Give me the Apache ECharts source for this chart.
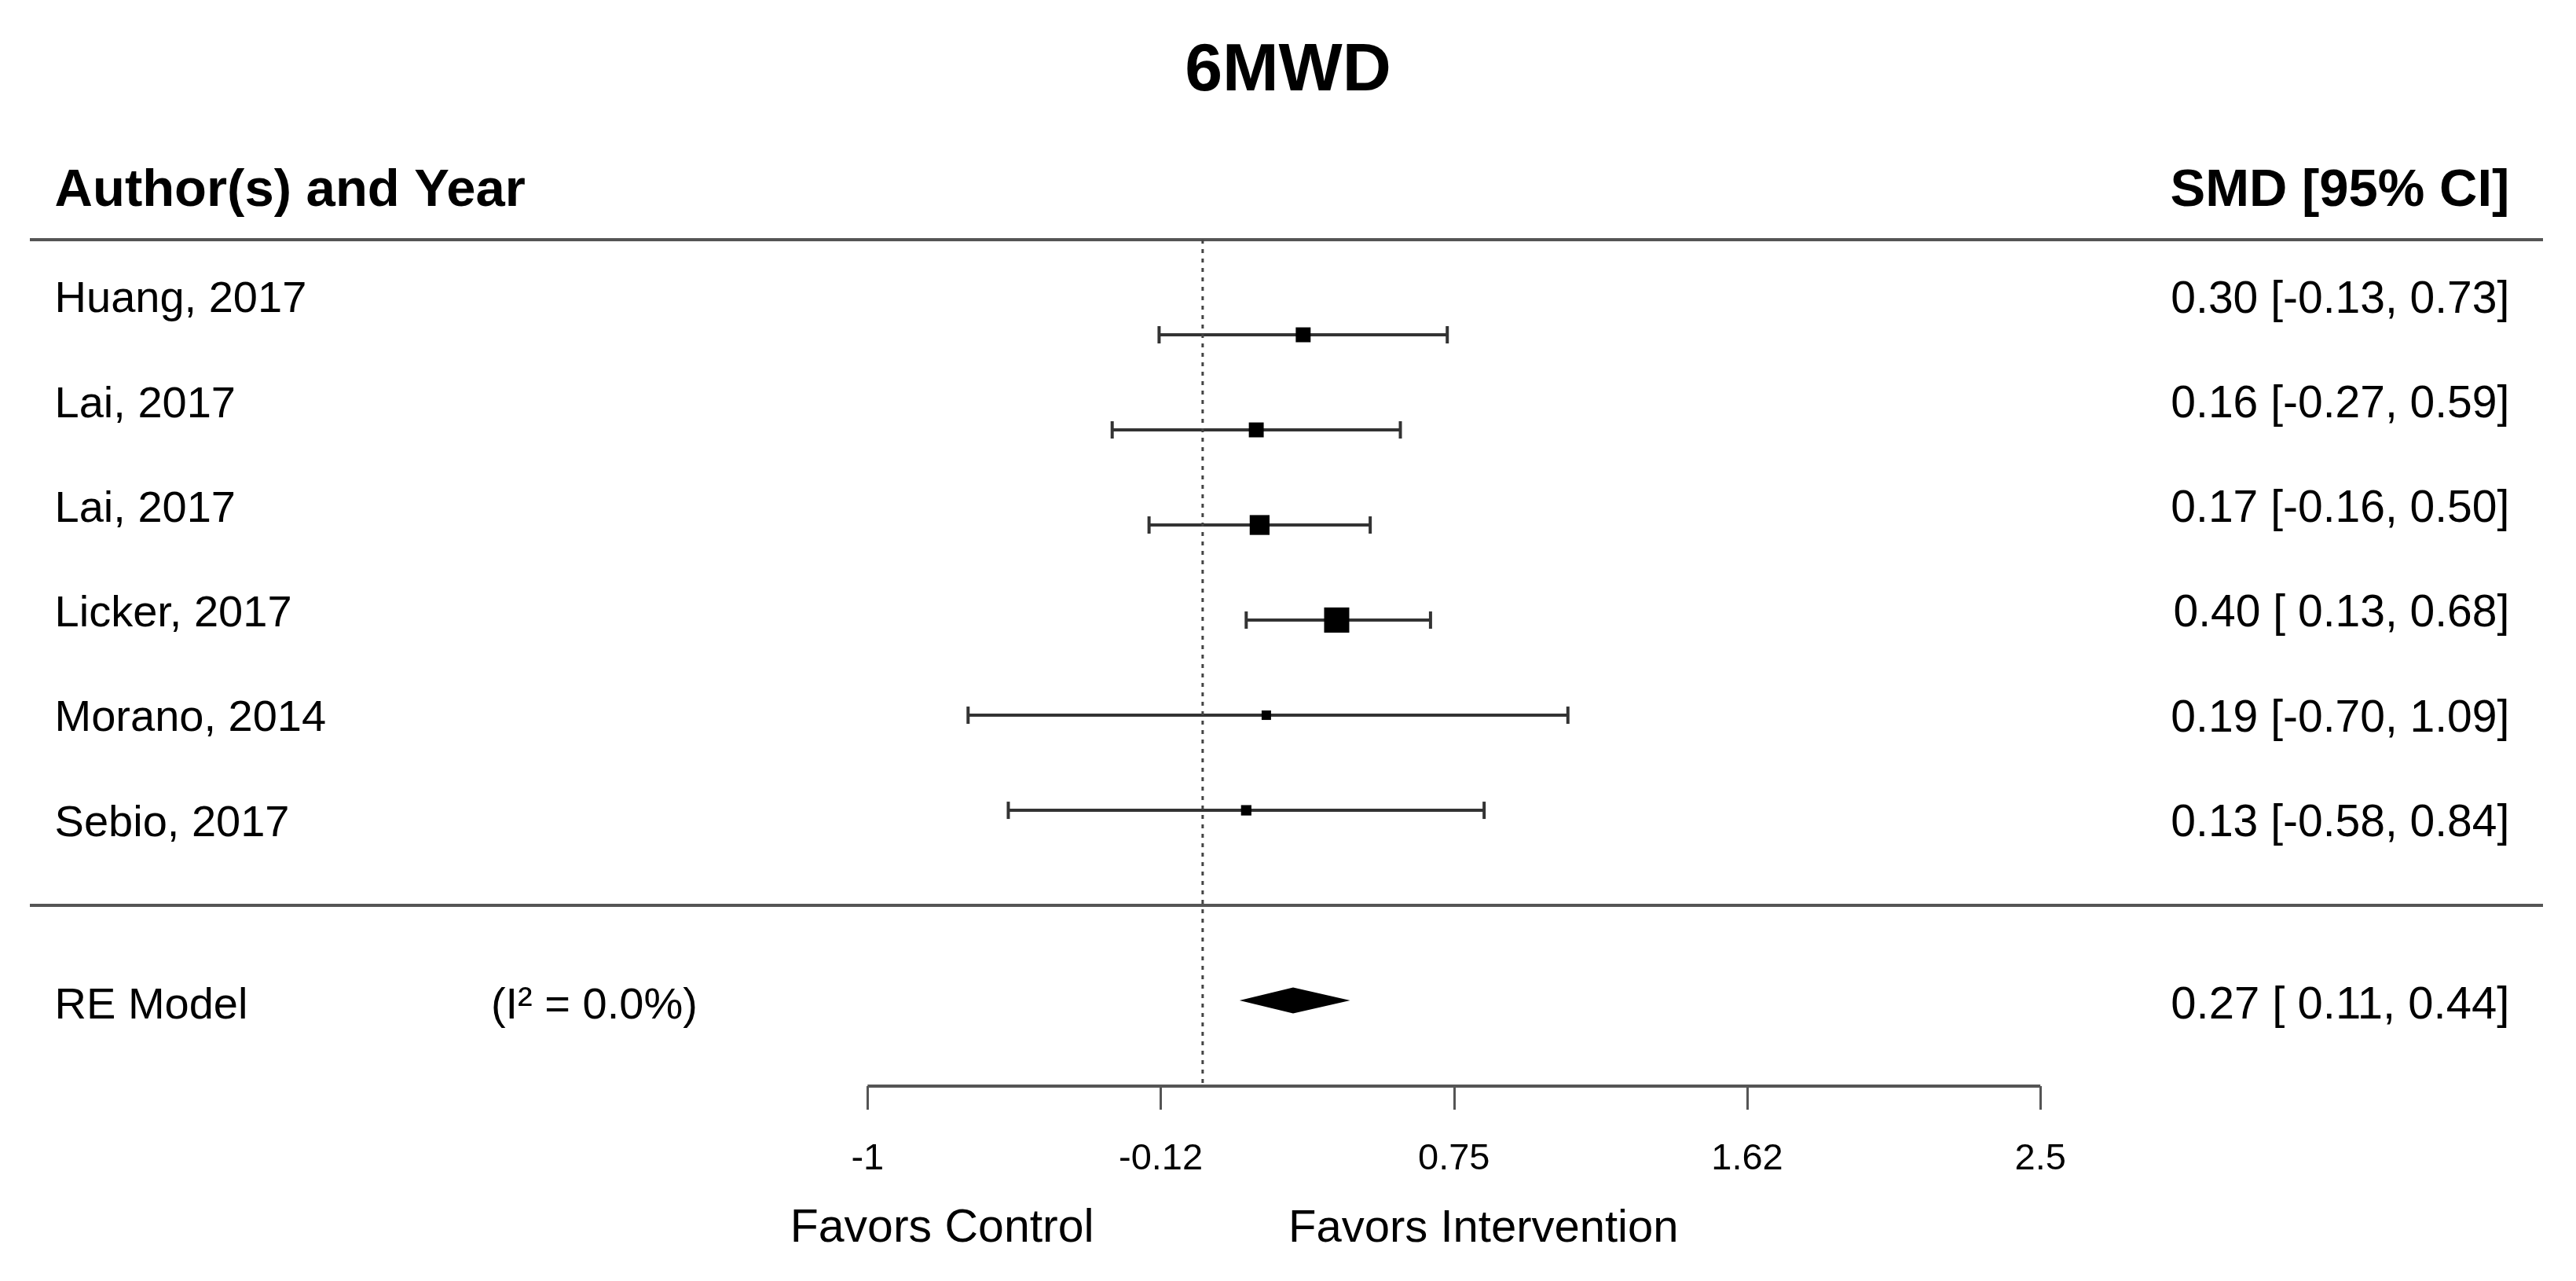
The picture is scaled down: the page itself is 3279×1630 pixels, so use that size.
<!doctype html>
<html>
<head>
<meta charset="utf-8">
<script src="https://cdn.jsdelivr.net/npm/echarts@6/dist/echarts.min.js"></script>
<style>
  html, body { margin: 0; padding: 0; background: #fff; }
  #main { width: 3279px; height: 1630px; }
</style>
</head>
<body>
<div id="main"></div>
<script>
// forest plot data
var studies = ['Huang, 2017', 'Lai, 2017', 'Lai, 2017', 'Licker, 2017', 'Morano, 2014', 'Sebio, 2017'];
var smd    = [0.30, 0.16, 0.17, 0.40, 0.19, 0.13];
var ciLow  = [-0.13, -0.27, -0.16, 0.13, -0.70, -0.58];
var ciHigh = [0.73, 0.59, 0.50, 0.68, 1.09, 0.84];
var pooledEst = 0.27, pooledLow = 0.11, pooledHigh = 0.44;
var i2Text = '0.0%';
var tickValues = [-1, -0.125, 0.75, 1.625, 2.5];
var tickLabels = ['-1', '-0.12', '0.75', '1.62', '2.5'];

var FONT = 'Liberation Sans, Arial, sans-serif';
var k = studies.length;
var xMin = -3.5, xMax = 4;
var axisY = 8.9;

// weights from CI width -> square size (like metafor psize)
var w = studies.map(function (s, i) { var d = ciHigh[i] - ciLow[i]; return 1 / (d * d); });
var wMin = Math.min.apply(null, w), wMax = Math.max.apply(null, w);
var psize = w.map(function (v) { return 20 * (0.5 + (v - wMin) / (wMax - wMin)) + 2; });

function fmtLow(v) { return (v < 0 ? '' : ' ') + v.toFixed(2); }
function ciText(e, lo, hi) { return e.toFixed(2) + ' [' + fmtLow(lo) + ', ' + hi.toFixed(2) + ']'; }

// text rows (sit a bit off the marker rows, as in the picture)
function textRow(i) { return 0.636 + 1.101 * i; }

var texts = [];
texts.push({ x: -3.426, y: -0.51, t: 'Author(s) and Year', align: 'left', size: 67, bold: true });
texts.push({ x: 3.9, y: -0.51, t: 'SMD [95% CI]', align: 'right', size: 67, bold: true });
studies.forEach(function (s, i) {
  texts.push({ x: -3.426, y: textRow(i), t: s, align: 'left', size: 56 });
  texts.push({ x: 3.9, y: textRow(i), t: ciText(smd[i], ciLow[i], ciHigh[i]), align: 'right', size: 57 });
});
texts.push({ x: -3.426, y: 8.06, t: 'RE Model', align: 'left', size: 56 });
texts.push({ x: -2.124, y: 8.06, t: '(I\u00B2 = ' + i2Text + ')', align: 'left', size: 56 });
texts.push({ x: 3.9, y: 8.06, t: ciText(pooledEst, pooledLow, pooledHigh), align: 'right', size: 58 });
texts.push({ x: -0.324, y: 10.4, t: 'Favors Control', align: 'right', size: 59 });
texts.push({ x: 0.256, y: 10.4, t: 'Favors Intervention', align: 'left', size: 58 });

var lineCol = '#555';

var myChart = echarts.init(document.getElementById('main'));
var option = {
  backgroundColor: '#fff',
  animation: false,
  title: {
    text: '6MWD',
    left: 'center',
    top: 43,
    textStyle: { fontSize: 86, fontWeight: 'bold', fontFamily: FONT, color: '#000' }
  },
  grid: { left: 38, right: 42, top: 305, bottom: 248 },
  xAxis: {
    type: 'value',
    position: 'bottom',
    min: xMin,
    max: xMax,
    axisLine: { show: false, onZero: false },
    splitLine: { show: false },
    axisTick: {
      show: true,
      customValues: tickValues,
      length: 30,
      lineStyle: { color: lineCol, width: 3 }
    },
    axisLabel: {
      customValues: tickValues,
      margin: 70,
      fontSize: 47,
      fontFamily: FONT,
      color: '#000',
      formatter: function (v) {
        var best = 0;
        for (var i = 1; i < tickValues.length; i++) {
          if (Math.abs(tickValues[i] - v) < Math.abs(tickValues[best] - v)) best = i;
        }
        return tickLabels[best];
      }
    }
  },
  yAxis: { type: 'value', min: 0, max: axisY, inverse: true, show: false },
  series: [
    { // header rule
      type: 'line', data: [[xMin, 0], [xMax, 0]], symbol: 'none', clip: false, silent: true,
      lineStyle: { color: lineCol, width: 4 }
    },
    { // separator above summary
      type: 'line', data: [[xMin, k + 1], [xMax, k + 1]], symbol: 'none', clip: false, silent: true,
      lineStyle: { color: lineCol, width: 4 }
    },
    { // x axis line
      type: 'line', data: [[tickValues[0], axisY], [tickValues[tickValues.length - 1], axisY]],
      symbol: 'none', clip: false, silent: true,
      lineStyle: { color: lineCol, width: 4 }
    },
    { // reference line at 0
      type: 'line', data: [[0, 0], [0, axisY]], symbol: 'none', clip: false, silent: true,
      lineStyle: { color: '#444', width: 3, type: [5, 7] }
    },
    { // study estimates with CI
      type: 'custom',
      clip: false,
      data: studies.map(function (s, i) { return [smd[i], ciLow[i], ciHigh[i], i + 1]; }),
      encode: { x: [0, 1, 2], y: 3 },
      renderItem: function (params, api) {
        var y = api.value(3);
        var c = api.coord([api.value(0), y]);
        var lo = api.coord([api.value(1), y]);
        var hi = api.coord([api.value(2), y]);
        var s = psize[params.dataIndex];
        var st = { stroke: '#333', lineWidth: 4 };
        return {
          type: 'group',
          children: [
            { type: 'line', shape: { x1: lo[0], y1: lo[1], x2: hi[0], y2: hi[1] }, style: st },
            { type: 'line', shape: { x1: lo[0], y1: lo[1] - 11, x2: lo[0], y2: lo[1] + 11 }, style: st },
            { type: 'line', shape: { x1: hi[0], y1: hi[1] - 11, x2: hi[0], y2: hi[1] + 11 }, style: st },
            { type: 'rect', shape: { x: c[0] - s / 2, y: c[1] - s / 2, width: s, height: s }, style: { fill: '#000' } }
          ]
        };
      }
    },
    { // pooled diamond
      type: 'custom',
      clip: false,
      data: [[pooledEst, pooledLow, pooledHigh, k + 2]],
      encode: { x: [0, 1, 2], y: 3 },
      renderItem: function (params, api) {
        var y = api.value(3);
        var c = api.coord([api.value(0), y]);
        var lo = api.coord([api.value(1), y]);
        var hi = api.coord([api.value(2), y]);
        var h = 16.5;
        return {
          type: 'polygon',
          shape: { points: [[lo[0], c[1]], [c[0], c[1] - h], [hi[0], c[1]], [c[0], c[1] + h]] },
          style: { fill: '#000' }
        };
      }
    },
    { // all the table text
      type: 'custom',
      clip: false,
      silent: true,
      data: texts.map(function (t) { return [t.x, t.y]; }),
      encode: { x: 0, y: 1 },
      renderItem: function (params, api) {
        var t = texts[params.dataIndex];
        var p = api.coord([api.value(0), api.value(1)]);
        return {
          type: 'text',
          style: {
            text: t.t, x: p[0], y: p[1],
            fill: '#000',
            fontSize: t.size,
            fontFamily: FONT,
            fontWeight: t.bold ? 'bold' : 'normal',
            align: t.align,
            verticalAlign: 'middle'
          }
        };
      }
    }
  ]
};
myChart.setOption(option);
</script>
</body>
</html>
